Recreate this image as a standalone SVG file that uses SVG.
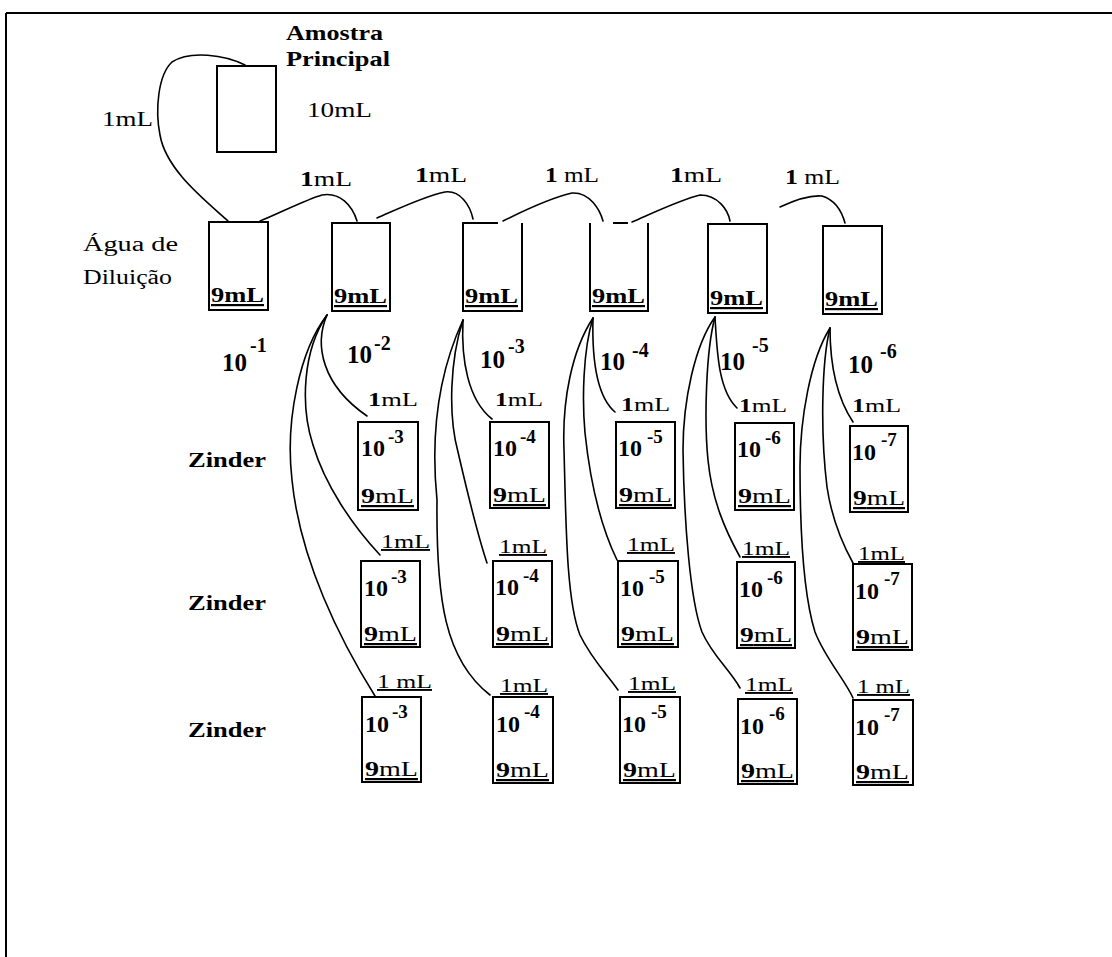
<svg xmlns="http://www.w3.org/2000/svg" width="1112" height="957" viewBox="0 0 1112 957" font-family="Liberation Serif, Times New Roman, serif">
<style>
text{fill:#000}
.b{font-weight:bold}
.box{fill:none;stroke:#000;stroke-width:2}
.c{fill:none;stroke:#000;stroke-width:1.6;stroke-linecap:round}
.lbl{font-size:20px}
.ul{text-decoration:underline}
.exp{font-size:25px;font-weight:bold}
.sup{font-size:20px;font-weight:bold}
.z{font-size:22px;font-weight:bold}
.s10{font-size:24px;font-weight:bold}
.ssup{font-size:19px;font-weight:bold}
.s9{font-size:22px}
.sl{font-size:19px}
</style>
<rect x="0" y="0" width="1112" height="957" fill="#fff"/>
<path d="M6,13 H1112 M6,13 V957" fill="none" stroke="#000" stroke-width="2"/>

<g id="main-sample">
<rect class="box" x="217" y="66" width="59" height="86"/>
<text class="b" x="286" y="40" font-size="22" textLength="97" lengthAdjust="spacingAndGlyphs">Amostra</text>
<text class="b" x="286" y="66" font-size="22" textLength="104" lengthAdjust="spacingAndGlyphs">Principal</text>
<text class="lbl" x="307" y="117" textLength="65" lengthAdjust="spacingAndGlyphs">10mL</text>
</g>

<g id="dilution-label">
<text class="lbl" x="83" y="251" textLength="95" lengthAdjust="spacingAndGlyphs">Água de</text>
<text class="lbl" x="83" y="284" textLength="89" lengthAdjust="spacingAndGlyphs">Diluição</text>
</g>

<g id="zinder-labels">
<text class="z" x="188" y="467" textLength="78" lengthAdjust="spacingAndGlyphs">Zinder</text>
<text class="z" x="188" y="610" textLength="78" lengthAdjust="spacingAndGlyphs">Zinder</text>
<text class="z" x="188" y="737" textLength="78" lengthAdjust="spacingAndGlyphs">Zinder</text>
</g>

<g id="dilution-row">
<g id="d1">
<rect class="box" x="209" y="222" width="59" height="88"/>
<text class="b s9 ul" x="211" y="302" textLength="53" lengthAdjust="spacingAndGlyphs">9mL</text>
<text class="exp" x="222" y="371">10<tspan class="sup" x="250" y="352">-1</tspan></text>
</g>
<g id="d2">
<rect class="box" x="332" y="223" width="58" height="88"/>
<text class="b s9 ul" x="334" y="303" textLength="53" lengthAdjust="spacingAndGlyphs">9mL</text>
<text class="exp" x="347" y="363">10<tspan class="sup" x="374" y="350">-2</tspan></text>
</g>
<g id="d3">
<path class="box" d="M498,223 H463 V311 H522 V223"/>
<text class="b s9 ul" x="465" y="303" textLength="53" lengthAdjust="spacingAndGlyphs">9mL</text>
<text class="exp" x="480" y="368">10<tspan class="sup" x="508" y="353">-3</tspan></text>
</g>
<g id="d4">
<path class="box" d="M590,223 V311 H648 V223 M613,223 H628"/>
<text class="b s9 ul" x="592" y="303" textLength="53" lengthAdjust="spacingAndGlyphs">9mL</text>
<text class="exp" x="600" y="370">10<tspan class="sup" x="632" y="357">-4</tspan></text>
</g>
<g id="d5">
<rect class="box" x="708" y="224" width="59" height="89"/>
<text class="b s9 ul" x="710" y="305" textLength="53" lengthAdjust="spacingAndGlyphs">9mL</text>
<text class="exp" x="720" y="370">10<tspan class="sup" x="752" y="352">-5</tspan></text>
</g>
<g id="d6">
<rect class="box" x="823" y="226" width="59" height="88"/>
<text class="b s9 ul" x="825" y="306" textLength="53" lengthAdjust="spacingAndGlyphs">9mL</text>
<text class="exp" x="848" y="373">10<tspan class="sup" x="880" y="358">-6</tspan></text>
</g>
</g>

<g id="zinder-boxes">
<g id="r1a"><rect class="box" x="358" y="422" width="60" height="88"/><text class="s10" x="361" y="456">10<tspan class="ssup" x="388" y="443">-3</tspan></text><text class="s9 ul" x="361" y="503" textLength="53" lengthAdjust="spacingAndGlyphs"><tspan class="b">9</tspan>mL</text></g>
<g id="r1b"><rect class="box" x="490" y="422" width="59" height="86"/><text class="s10" x="493" y="456">10<tspan class="ssup" x="520" y="443">-4</tspan></text><text class="s9 ul" x="493" y="502" textLength="53" lengthAdjust="spacingAndGlyphs"><tspan class="b">9</tspan>mL</text></g>
<g id="r1c"><rect class="box" x="616" y="422" width="59" height="86"/><text class="s10" x="618" y="456">10<tspan class="ssup" x="647" y="443">-5</tspan></text><text class="s9 ul" x="619" y="502" textLength="53" lengthAdjust="spacingAndGlyphs"><tspan class="b">9</tspan>mL</text></g>
<g id="r1d"><rect class="box" x="735" y="423" width="59" height="87"/><text class="s10" x="737" y="457">10<tspan class="ssup" x="765" y="444">-6</tspan></text><text class="s9 ul" x="738" y="503" textLength="53" lengthAdjust="spacingAndGlyphs"><tspan class="b">9</tspan>mL</text></g>
<g id="r1e"><rect class="box" x="850" y="426" width="58" height="86"/><text class="s10" x="852" y="460">10<tspan class="ssup" x="881" y="446">-7</tspan></text><text class="s9 ul" x="853" y="505" textLength="52" lengthAdjust="spacingAndGlyphs"><tspan class="b">9</tspan>mL</text></g>

<g id="r2a"><rect class="box" x="361" y="561" width="59" height="86"/><text class="s10" x="364" y="596">10<tspan class="ssup" x="391" y="583">-3</tspan></text><text class="s9 ul" x="364" y="641" textLength="53" lengthAdjust="spacingAndGlyphs"><tspan class="b">9</tspan>mL</text></g>
<g id="r2b"><rect class="box" x="493" y="561" width="59" height="86"/><text class="s10" x="495" y="595">10<tspan class="ssup" x="523" y="582">-4</tspan></text><text class="s9 ul" x="496" y="641" textLength="53" lengthAdjust="spacingAndGlyphs"><tspan class="b">9</tspan>mL</text></g>
<g id="r2c"><rect class="box" x="618" y="561" width="60" height="86"/><text class="s10" x="620" y="596">10<tspan class="ssup" x="649" y="583">-5</tspan></text><text class="s9 ul" x="621" y="641" textLength="53" lengthAdjust="spacingAndGlyphs"><tspan class="b">9</tspan>mL</text></g>
<g id="r2d"><rect class="box" x="737" y="562" width="58" height="86"/><text class="s10" x="739" y="597">10<tspan class="ssup" x="767" y="584">-6</tspan></text><text class="s9 ul" x="740" y="642" textLength="52" lengthAdjust="spacingAndGlyphs"><tspan class="b">9</tspan>mL</text></g>
<g id="r2e"><rect class="box" x="853" y="564" width="59" height="86"/><text class="s10" x="855" y="599">10<tspan class="ssup" x="884" y="585">-7</tspan></text><text class="s9 ul" x="856" y="644" textLength="53" lengthAdjust="spacingAndGlyphs"><tspan class="b">9</tspan>mL</text></g>

<g id="r3a"><rect class="box" x="362" y="697" width="59" height="85"/><text class="s10" x="365" y="732">10<tspan class="ssup" x="392" y="718">-3</tspan></text><text class="s9 ul" x="365" y="776" textLength="53" lengthAdjust="spacingAndGlyphs"><tspan class="b">9</tspan>mL</text></g>
<g id="r3b"><rect class="box" x="493" y="697" width="60" height="86"/><text class="s10" x="496" y="732">10<tspan class="ssup" x="524" y="718">-4</tspan></text><text class="s9 ul" x="496" y="777" textLength="53" lengthAdjust="spacingAndGlyphs"><tspan class="b">9</tspan>mL</text></g>
<g id="r3c"><rect class="box" x="620" y="697" width="60" height="86"/><text class="s10" x="622" y="732">10<tspan class="ssup" x="651" y="718">-5</tspan></text><text class="s9 ul" x="623" y="777" textLength="53" lengthAdjust="spacingAndGlyphs"><tspan class="b">9</tspan>mL</text></g>
<g id="r3d"><rect class="box" x="738" y="699" width="59" height="85"/><text class="s10" x="740" y="734">10<tspan class="ssup" x="769" y="720">-6</tspan></text><text class="s9 ul" x="741" y="778" textLength="53" lengthAdjust="spacingAndGlyphs"><tspan class="b">9</tspan>mL</text></g>
<g id="r3e"><rect class="box" x="853" y="700" width="60" height="85"/><text class="s10" x="855" y="735">10<tspan class="ssup" x="884" y="721">-7</tspan></text><text class="s9 ul" x="856" y="779" textLength="53" lengthAdjust="spacingAndGlyphs"><tspan class="b">9</tspan>mL</text></g>
</g>

<g id="connectors">
<path class="c" d="M245,65 C225,55 190,50 172,62 C158,75 155,110 160,135 C166,170 205,200 228,221"/>
<path class="c" d="M260,221 C280,213 305,200 322,195 C340,192 352,205 357,221"/>
<path class="c" d="M377,218 C400,208 425,196 445,192 C460,190 470,205 473,219"/>
<path class="c" d="M503,221 C525,210 550,198 572,193 C590,192 600,210 603,221"/>
<path class="c" d="M632,222 C655,212 680,200 700,195 C718,195 728,210 730,221"/>
<path class="c" d="M780,207 C795,200 810,195 822,196 C835,200 842,212 845,223"/>

<path class="c" d="M327,315 C314,345 322,385 367,416"/>
<path class="c" d="M327,315 C303,350 300,405 313,445 C325,485 352,525 380,555"/>
<path class="c" d="M327,315 C300,350 285,420 292,480 C300,560 340,640 375,696"/>

<path class="c" d="M463,320 C461,360 468,400 492,419"/>
<path class="c" d="M463,320 C450,360 448,415 458,452 C468,495 476,530 487,563"/>
<path class="c" d="M463,320 C440,370 430,430 437,500 C436,600 445,660 490,695"/>

<path class="c" d="M593,318 C592,355 595,395 615,412"/>
<path class="c" d="M593,318 C583,350 582,400 585,433 C590,480 600,525 617,560"/>
<path class="c" d="M593,318 C572,350 562,400 564,450 C566,520 566,600 580,635 C592,660 608,675 618,690"/>

<path class="c" d="M715,317 C717,350 718,390 737,408"/>
<path class="c" d="M715,317 C706,350 704,420 708,460 C712,500 725,530 740,557"/>
<path class="c" d="M715,317 C695,345 683,400 683,450 C684,520 690,600 702,632 C712,655 730,670 740,688"/>

<path class="c" d="M830,328 C830,360 835,395 853,422"/>
<path class="c" d="M830,328 C822,360 820,430 827,487 C832,520 843,545 853,563"/>
<path class="c" d="M830,328 C810,360 800,420 800,467 C800,540 805,600 815,632 C825,658 845,680 853,698"/>
</g>

<g id="connector-labels">
<text class="lbl" x="102" y="126" textLength="51" lengthAdjust="spacingAndGlyphs">1mL</text>
<text class="lbl" x="300" y="186" textLength="52" lengthAdjust="spacingAndGlyphs"><tspan class="b">1</tspan>mL</text>
<text class="lbl" x="415" y="182" textLength="52" lengthAdjust="spacingAndGlyphs"><tspan class="b">1</tspan>mL</text>
<text class="lbl" x="545" y="182" textLength="54" lengthAdjust="spacingAndGlyphs"><tspan class="b">1</tspan> mL</text>
<text class="lbl" x="670" y="182" textLength="52" lengthAdjust="spacingAndGlyphs"><tspan class="b">1</tspan>mL</text>
<text class="lbl" x="785" y="184" textLength="55" lengthAdjust="spacingAndGlyphs"><tspan class="b">1</tspan> mL</text>

<text class="sl" x="368" y="406" textLength="50" lengthAdjust="spacingAndGlyphs"><tspan class="b">1</tspan>mL</text>
<text class="sl" x="495" y="406" textLength="48" lengthAdjust="spacingAndGlyphs"><tspan class="b">1</tspan>mL</text>
<text class="sl" x="621" y="411" textLength="49" lengthAdjust="spacingAndGlyphs"><tspan class="b">1</tspan>mL</text>
<text class="sl" x="739" y="412" textLength="48" lengthAdjust="spacingAndGlyphs"><tspan class="b">1</tspan>mL</text>
<text class="sl" x="852" y="412" textLength="49" lengthAdjust="spacingAndGlyphs"><tspan class="b">1</tspan>mL</text>

<text class="sl ul" x="381" y="548" textLength="49" lengthAdjust="spacingAndGlyphs">1mL</text>
<text class="sl ul" x="499" y="553" textLength="48" lengthAdjust="spacingAndGlyphs">1mL</text>
<text class="sl ul" x="627" y="551" textLength="48" lengthAdjust="spacingAndGlyphs">1mL</text>
<text class="sl ul" x="742" y="555" textLength="48" lengthAdjust="spacingAndGlyphs">1mL</text>
<text class="sl ul" x="858" y="560" textLength="47" lengthAdjust="spacingAndGlyphs">1mL</text>

<text class="sl ul" x="377" y="688" textLength="55" lengthAdjust="spacingAndGlyphs">1 mL</text>
<text class="sl ul" x="500" y="692" textLength="48" lengthAdjust="spacingAndGlyphs">1mL</text>
<text class="sl ul" x="628" y="690" textLength="48" lengthAdjust="spacingAndGlyphs">1mL</text>
<text class="sl ul" x="745" y="691" textLength="48" lengthAdjust="spacingAndGlyphs">1mL</text>
<text class="sl ul" x="857" y="693" textLength="53" lengthAdjust="spacingAndGlyphs">1 mL</text>
</g>
</svg>
